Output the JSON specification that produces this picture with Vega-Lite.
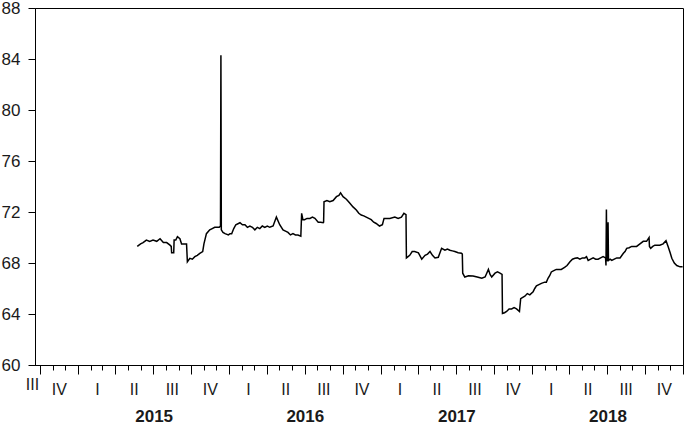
{
"$schema": "https://vega.github.io/schema/vega-lite/v6.json",
"width": 648, "height": 357,
"autosize": {"type": "none"},
"padding": {"left": 35, "top": 8, "right": 2, "bottom": 60},
"background": "white",
"config": {"view": {"stroke": "black", "strokeWidth": 1}, "axis": {"grid": false, "domainColor": "black", "tickColor": "black", "labelColor": "#1a1a1a", "labelFont": "Liberation Sans"}},
"data": {"values": [
{"date":"2015-05-24","value":69.3},{"date":"2015-06-01","value":69.5},{"date":"2015-06-07","value":69.6},{"date":"2015-06-15","value":69.8},{"date":"2015-06-23","value":69.7},{"date":"2015-07-01","value":69.8},{"date":"2015-07-10","value":69.7},{"date":"2015-07-18","value":69.9},{"date":"2015-07-26","value":69.6},{"date":"2015-08-03","value":69.6},{"date":"2015-08-11","value":69.4},{"date":"2015-08-14","value":69.3},{"date":"2015-08-15","value":68.8},{"date":"2015-08-20","value":68.8},{"date":"2015-08-21","value":69.8},{"date":"2015-08-25","value":69.8},{"date":"2015-08-29","value":70.06},{"date":"2015-09-04","value":69.9},{"date":"2015-09-08","value":69.5},{"date":"2015-09-15","value":69.5},{"date":"2015-09-20","value":69.5},{"date":"2015-09-22","value":68.1},{"date":"2015-09-28","value":68.37},{"date":"2015-10-04","value":68.3},{"date":"2015-10-10","value":68.5},{"date":"2015-10-16","value":68.6},{"date":"2015-10-22","value":68.76},{"date":"2015-10-29","value":68.9},{"date":"2015-11-01","value":69.5},{"date":"2015-11-07","value":70.3},{"date":"2015-11-15","value":70.6},{"date":"2015-11-21","value":70.7},{"date":"2015-11-27","value":70.8},{"date":"2015-12-04","value":70.8},{"date":"2015-12-08","value":70.8},{"date":"2015-12-11","value":70.9},{"date":"2015-12-12","value":84.3},{"date":"2015-12-13","value":70.6},{"date":"2015-12-17","value":70.4},{"date":"2015-12-22","value":70.3},{"date":"2015-12-30","value":70.2},{"date":"2016-01-03","value":70.3},{"date":"2016-01-07","value":70.3},{"date":"2016-01-12","value":70.7},{"date":"2016-01-17","value":71.0},{"date":"2016-01-27","value":71.16},{"date":"2016-02-02","value":71.0},{"date":"2016-02-08","value":71.0},{"date":"2016-02-14","value":70.8},{"date":"2016-02-20","value":70.9},{"date":"2016-02-26","value":70.8},{"date":"2016-03-03","value":70.6},{"date":"2016-03-09","value":70.8},{"date":"2016-03-15","value":70.7},{"date":"2016-03-21","value":70.9},{"date":"2016-03-27","value":70.8},{"date":"2016-04-02","value":70.9},{"date":"2016-04-08","value":70.8},{"date":"2016-04-16","value":70.9},{"date":"2016-04-24","value":71.6},{"date":"2016-05-02","value":71.0},{"date":"2016-05-10","value":70.6},{"date":"2016-05-16","value":70.5},{"date":"2016-05-22","value":70.4},{"date":"2016-05-28","value":70.2},{"date":"2016-06-03","value":70.3},{"date":"2016-06-09","value":70.2},{"date":"2016-06-15","value":70.2},{"date":"2016-06-22","value":70.1},{"date":"2016-06-24","value":71.9},{"date":"2016-06-27","value":71.4},{"date":"2016-07-01","value":71.4},{"date":"2016-07-07","value":71.5},{"date":"2016-07-14","value":71.5},{"date":"2016-07-20","value":71.6},{"date":"2016-07-26","value":71.5},{"date":"2016-08-03","value":71.2},{"date":"2016-08-09","value":71.2},{"date":"2016-08-15","value":71.16},{"date":"2016-08-16","value":71.2},{"date":"2016-08-17","value":72.8},{"date":"2016-08-24","value":72.9},{"date":"2016-08-31","value":72.8},{"date":"2016-09-08","value":72.9},{"date":"2016-09-16","value":73.2},{"date":"2016-09-22","value":73.3},{"date":"2016-09-26","value":73.5},{"date":"2016-10-02","value":73.2},{"date":"2016-10-10","value":73.0},{"date":"2016-10-18","value":72.7},{"date":"2016-10-26","value":72.4},{"date":"2016-11-03","value":72.16},{"date":"2016-11-09","value":71.9},{"date":"2016-11-15","value":71.76},{"date":"2016-11-21","value":71.7},{"date":"2016-11-27","value":71.6},{"date":"2016-12-03","value":71.5},{"date":"2016-12-09","value":71.4},{"date":"2016-12-15","value":71.2},{"date":"2016-12-21","value":71.1},{"date":"2016-12-29","value":70.9},{"date":"2017-01-05","value":71.0},{"date":"2017-01-09","value":71.5},{"date":"2017-01-16","value":71.5},{"date":"2017-01-23","value":71.5},{"date":"2017-02-04","value":71.6},{"date":"2017-02-12","value":71.5},{"date":"2017-02-20","value":71.6},{"date":"2017-02-26","value":71.9},{"date":"2017-03-03","value":71.8},{"date":"2017-03-04","value":68.4},{"date":"2017-03-08","value":68.5},{"date":"2017-03-12","value":68.6},{"date":"2017-03-18","value":68.9},{"date":"2017-03-24","value":68.9},{"date":"2017-04-02","value":68.8},{"date":"2017-04-10","value":68.3},{"date":"2017-04-18","value":68.6},{"date":"2017-04-24","value":68.7},{"date":"2017-04-30","value":68.9},{"date":"2017-05-06","value":68.6},{"date":"2017-05-12","value":68.4},{"date":"2017-05-20","value":68.45},{"date":"2017-05-28","value":69.15},{"date":"2017-06-05","value":69.0},{"date":"2017-06-11","value":69.1},{"date":"2017-06-17","value":69.0},{"date":"2017-06-23","value":68.95},{"date":"2017-06-29","value":68.9},{"date":"2017-07-07","value":68.8},{"date":"2017-07-15","value":68.76},{"date":"2017-07-17","value":68.7},{"date":"2017-07-18","value":67.2},{"date":"2017-07-23","value":66.9},{"date":"2017-08-01","value":67.0},{"date":"2017-08-12","value":66.98},{"date":"2017-08-22","value":66.9},{"date":"2017-09-02","value":66.8},{"date":"2017-09-10","value":66.9},{"date":"2017-09-14","value":67.2},{"date":"2017-09-18","value":67.5},{"date":"2017-09-22","value":67.1},{"date":"2017-09-26","value":66.9},{"date":"2017-10-04","value":67.2},{"date":"2017-10-10","value":67.3},{"date":"2017-10-16","value":67.2},{"date":"2017-10-21","value":67.1},{"date":"2017-10-22","value":64.05},{"date":"2017-10-27","value":64.1},{"date":"2017-11-01","value":64.2},{"date":"2017-11-07","value":64.4},{"date":"2017-11-13","value":64.4},{"date":"2017-11-19","value":64.5},{"date":"2017-11-25","value":64.4},{"date":"2017-12-02","value":64.2},{"date":"2017-12-05","value":65.2},{"date":"2017-12-10","value":65.3},{"date":"2017-12-15","value":65.4},{"date":"2017-12-21","value":65.6},{"date":"2017-12-27","value":65.5},{"date":"2018-01-04","value":65.75},{"date":"2018-01-08","value":66.0},{"date":"2018-01-12","value":66.2},{"date":"2018-01-18","value":66.3},{"date":"2018-01-24","value":66.4},{"date":"2018-02-01","value":66.5},{"date":"2018-02-05","value":66.5},{"date":"2018-02-09","value":66.8},{"date":"2018-02-13","value":67.0},{"date":"2018-02-17","value":67.3},{"date":"2018-02-23","value":67.4},{"date":"2018-03-01","value":67.5},{"date":"2018-03-07","value":67.5},{"date":"2018-03-13","value":67.5},{"date":"2018-03-21","value":67.65},{"date":"2018-03-27","value":67.8},{"date":"2018-04-03","value":68.1},{"date":"2018-04-09","value":68.3},{"date":"2018-04-15","value":68.37},{"date":"2018-04-21","value":68.4},{"date":"2018-04-27","value":68.3},{"date":"2018-05-03","value":68.4},{"date":"2018-05-09","value":68.4},{"date":"2018-05-13","value":68.5},{"date":"2018-05-17","value":68.2},{"date":"2018-05-23","value":68.3},{"date":"2018-05-29","value":68.4},{"date":"2018-06-04","value":68.3},{"date":"2018-06-10","value":68.3},{"date":"2018-06-16","value":68.4},{"date":"2018-06-22","value":68.5},{"date":"2018-06-28","value":68.4},{"date":"2018-06-29","value":67.8},{"date":"2018-06-30","value":72.2},{"date":"2018-07-01","value":68.2},{"date":"2018-07-03","value":68.2},{"date":"2018-07-04","value":71.2},{"date":"2018-07-05","value":68.2},{"date":"2018-07-09","value":68.3},{"date":"2018-07-13","value":68.2},{"date":"2018-07-19","value":68.3},{"date":"2018-07-25","value":68.4},{"date":"2018-08-02","value":68.4},{"date":"2018-08-10","value":68.76},{"date":"2018-08-14","value":68.9},{"date":"2018-08-18","value":69.15},{"date":"2018-08-24","value":69.2},{"date":"2018-08-30","value":69.3},{"date":"2018-09-05","value":69.3},{"date":"2018-09-11","value":69.3},{"date":"2018-09-19","value":69.5},{"date":"2018-09-27","value":69.7},{"date":"2018-10-05","value":69.7},{"date":"2018-10-11","value":70.0},{"date":"2018-10-12","value":69.3},{"date":"2018-10-15","value":69.15},{"date":"2018-10-20","value":69.3},{"date":"2018-10-25","value":69.4},{"date":"2018-11-06","value":69.4},{"date":"2018-11-14","value":69.5},{"date":"2018-11-21","value":69.75},{"date":"2018-11-26","value":69.3},{"date":"2018-12-01","value":68.8},{"date":"2018-12-05","value":68.37},{"date":"2018-12-11","value":68.0},{"date":"2018-12-17","value":67.8},{"date":"2018-12-25","value":67.7},{"date":"2018-12-31","value":67.7}
]},
"mark": {"type": "line", "color": "black", "strokeWidth": 1.5},
"encoding": {
"x": {"field": "date", "type": "temporal",
 "scale": {"domain": [{"year": 2014, "month": 9, "date": 19}, {"year": 2019, "month": 1, "date": 1}]},
 "axis": {"title": null,
  "values": [{"year":2014,"month":9,"date":19},{"year":2014,"month":10,"date":1},{"year":2014,"month":11,"date":1},{"year":2014,"month":12,"date":1},
   {"year":2015,"month":1,"date":1},{"year":2015,"month":2,"date":1},{"year":2015,"month":3,"date":1},{"year":2015,"month":4,"date":1},{"year":2015,"month":5,"date":1},{"year":2015,"month":6,"date":1},{"year":2015,"month":7,"date":1},{"year":2015,"month":8,"date":1},{"year":2015,"month":9,"date":1},{"year":2015,"month":10,"date":1},{"year":2015,"month":11,"date":1},{"year":2015,"month":12,"date":1},
   {"year":2016,"month":1,"date":1},{"year":2016,"month":2,"date":1},{"year":2016,"month":3,"date":1},{"year":2016,"month":4,"date":1},{"year":2016,"month":5,"date":1},{"year":2016,"month":6,"date":1},{"year":2016,"month":7,"date":1},{"year":2016,"month":8,"date":1},{"year":2016,"month":9,"date":1},{"year":2016,"month":10,"date":1},{"year":2016,"month":11,"date":1},{"year":2016,"month":12,"date":1},
   {"year":2017,"month":1,"date":1},{"year":2017,"month":2,"date":1},{"year":2017,"month":3,"date":1},{"year":2017,"month":4,"date":1},{"year":2017,"month":5,"date":1},{"year":2017,"month":6,"date":1},{"year":2017,"month":7,"date":1},{"year":2017,"month":8,"date":1},{"year":2017,"month":9,"date":1},{"year":2017,"month":10,"date":1},{"year":2017,"month":11,"date":1},{"year":2017,"month":12,"date":1},
   {"year":2018,"month":1,"date":1},{"year":2018,"month":2,"date":1},{"year":2018,"month":3,"date":1},{"year":2018,"month":4,"date":1},{"year":2018,"month":5,"date":1},{"year":2018,"month":6,"date":1},{"year":2018,"month":7,"date":1},{"year":2018,"month":8,"date":1},{"year":2018,"month":9,"date":1},{"year":2018,"month":10,"date":1},{"year":2018,"month":11,"date":1},{"year":2018,"month":12,"date":1},
   {"year":2019,"month":1,"date":1}],
  "labelExpr": "(month(datum.value)==0 && date(datum.value)==1 && year(datum.value)<2019) ? ''+year(datum.value) : (date(datum.value)==19 ? 'III' : ((month(datum.value)%3==1 && date(datum.value)==1) ? ['I','II','III','IV'][floor(month(datum.value)/3)] : ''))",
  "labelOverlap": false, "labelFlush": false, "labelBound": false,
  "tickSize": {"condition": [{"test": "date(datum.value)==19", "value": 0}, {"test": "month(datum.value)%3==0", "value": 9}], "value": 5},
  "labelOffset": {"condition": [{"test": "month(datum.value)==0", "value": 75.6}, {"test": "date(datum.value)==19", "value": -3}, {"test": "month(datum.value)%3==1", "value": 6}], "value": 0},
  "labelPadding": {"condition": {"test": "month(datum.value)==0", "value": 34}, "value": 11},
  "labelFontSize": {"condition": {"test": "month(datum.value)==0", "value": 17}, "value": 16},
  "labelFontWeight": {"condition": {"test": "month(datum.value)==0", "value": "bold"}, "value": "normal"}
 }},
"y": {"field": "value", "type": "quantitative",
 "scale": {"domain": [60, 88], "nice": false, "zero": false},
 "axis": {"title": null, "values": [60, 64, 68, 72, 76, 80, 84, 88], "tickSize": 7, "labelPadding": 8, "labelFontSize": 17}}
}
}
